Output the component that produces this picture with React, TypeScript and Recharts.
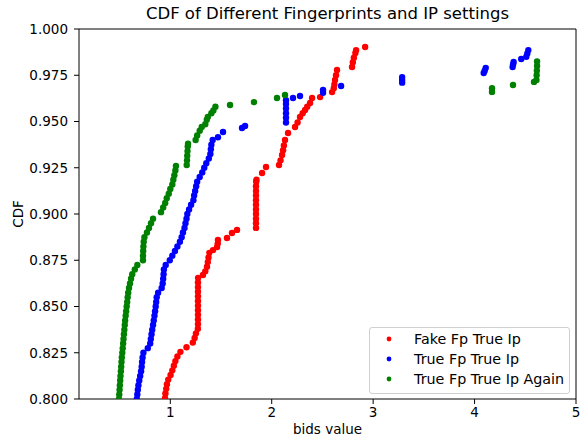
import {
  ScatterChart,
  Scatter,
  XAxis,
  YAxis,
  Legend,
  ReferenceLine,
} from "recharts"

// [bids value, CDF]
const fakeFpTrueIp: [number, number][] = [
  [0.948, 0.8005], [0.952, 0.803], [0.96, 0.8055], [0.967, 0.808], [0.98, 0.8105],
  [1.003, 0.813], [1.02, 0.8155], [1.035, 0.818], [1.05, 0.8205], [1.07, 0.823],
  [1.1, 0.8255], [1.16, 0.828], [1.222, 0.8305], [1.24, 0.833], [1.253, 0.8355],
  [1.272, 0.838], [1.273, 0.8405], [1.273, 0.843], [1.273, 0.8455], [1.273, 0.848],
  [1.273, 0.8505], [1.273, 0.853], [1.273, 0.8555], [1.273, 0.858], [1.273, 0.8605],
  [1.273, 0.863], [1.274, 0.8655], [1.322, 0.867], [1.345, 0.869], [1.362, 0.8715],
  [1.37, 0.874], [1.377, 0.8765], [1.385, 0.879], [1.421, 0.8805], [1.461, 0.8822],
  [1.468, 0.884], [1.47, 0.886], [1.559, 0.887], [1.608, 0.8897], [1.658, 0.8914],
  [1.845, 0.8925], [1.845, 0.895], [1.845, 0.8975], [1.845, 0.9], [1.845, 0.9025],
  [1.845, 0.905], [1.845, 0.9075], [1.845, 0.91], [1.845, 0.9125], [1.845, 0.915],
  [1.847, 0.9175], [1.85, 0.9185], [1.905, 0.9222], [1.944, 0.9254], [2.072, 0.9265],
  [2.087, 0.929], [2.102, 0.9319], [2.112, 0.9345], [2.12, 0.937], [2.131, 0.94],
  [2.161, 0.9438], [2.23, 0.947], [2.255, 0.9495], [2.279, 0.9524], [2.305, 0.9545],
  [2.329, 0.9562], [2.35, 0.958], [2.378, 0.96], [2.398, 0.9627], [2.477, 0.9632],
  [2.595, 0.9659], [2.612, 0.968], [2.618, 0.97], [2.624, 0.9724], [2.634, 0.975],
  [2.644, 0.9778], [2.792, 0.9795], [2.8, 0.982], [2.81, 0.9845], [2.825, 0.987],
  [2.832, 0.9886], [2.921, 0.9903],
]

const trueFpTrueIp: [number, number][] = [
  [0.67, 0.8], [0.675, 0.8025], [0.68, 0.805], [0.686, 0.8075], [0.694, 0.81],
  [0.703, 0.8125], [0.712, 0.815], [0.718, 0.8175], [0.722, 0.82], [0.727, 0.8225],
  [0.735, 0.825], [0.778, 0.8275], [0.802, 0.83], [0.808, 0.8325], [0.815, 0.835],
  [0.822, 0.8375], [0.83, 0.84], [0.837, 0.8425], [0.844, 0.845], [0.85, 0.8475],
  [0.856, 0.85], [0.861, 0.8525], [0.866, 0.855], [0.88, 0.8575], [0.915, 0.86],
  [0.925, 0.8625], [0.93, 0.865], [0.934, 0.8675], [0.937, 0.87], [0.955, 0.8725],
  [0.995, 0.875], [1.02, 0.8775], [1.046, 0.88], [1.07, 0.8825], [1.095, 0.885],
  [1.112, 0.8875], [1.125, 0.89], [1.14, 0.8925], [1.15, 0.895], [1.16, 0.8975],
  [1.168, 0.9], [1.185, 0.9025], [1.205, 0.905], [1.228, 0.9075], [1.235, 0.91],
  [1.245, 0.9125], [1.255, 0.915], [1.265, 0.9175], [1.29, 0.92], [1.315, 0.9225],
  [1.335, 0.925], [1.355, 0.9275], [1.38, 0.93], [1.395, 0.9325], [1.4, 0.935],
  [1.405, 0.9375], [1.418, 0.94], [1.47, 0.9415], [1.52, 0.9443], [1.707, 0.9465],
  [1.737, 0.9476], [2.141, 0.9495], [2.141, 0.952], [2.141, 0.9545], [2.141, 0.957],
  [2.141, 0.9595], [2.141, 0.9615], [2.21, 0.9627], [2.279, 0.9638], [2.506, 0.9655],
  [2.506, 0.967], [2.684, 0.9692], [3.286, 0.971], [3.286, 0.9725], [3.286, 0.974],
  [4.09, 0.9762], [4.1, 0.9775], [4.11, 0.979], [4.375, 0.9795], [4.38, 0.981],
  [4.385, 0.9822], [4.46, 0.9838], [4.51, 0.985], [4.52, 0.9868], [4.53, 0.9886],
]

const trueFpTrueIpAgain: [number, number][] = [
  [0.494, 0.8], [0.497, 0.8025], [0.5, 0.805], [0.503, 0.8075], [0.506, 0.81],
  [0.509, 0.8125], [0.513, 0.815], [0.516, 0.8175], [0.519, 0.82], [0.522, 0.8225],
  [0.527, 0.825], [0.531, 0.8275], [0.535, 0.83], [0.539, 0.8325], [0.543, 0.835],
  [0.547, 0.8375], [0.551, 0.84], [0.555, 0.8425], [0.56, 0.845], [0.565, 0.8475],
  [0.57, 0.85], [0.575, 0.8525], [0.58, 0.855], [0.585, 0.8575], [0.593, 0.86],
  [0.603, 0.8625], [0.613, 0.865], [0.625, 0.8675], [0.65, 0.87], [0.675, 0.8725],
  [0.731, 0.875], [0.731, 0.8775], [0.733, 0.88], [0.735, 0.8825], [0.738, 0.885],
  [0.745, 0.8875], [0.77, 0.89], [0.79, 0.8925], [0.81, 0.895], [0.83, 0.8975],
  [0.908, 0.901], [0.93, 0.9035], [0.95, 0.906], [0.965, 0.9085], [0.985, 0.911],
  [1.0, 0.9135], [1.02, 0.916], [1.03, 0.9185], [1.04, 0.921], [1.05, 0.9235],
  [1.056, 0.926], [1.162, 0.9265], [1.165, 0.929], [1.167, 0.9315], [1.17, 0.934],
  [1.172, 0.9365], [1.175, 0.938], [1.25, 0.94], [1.265, 0.9425], [1.29, 0.945],
  [1.31, 0.947], [1.345, 0.9485], [1.36, 0.951], [1.37, 0.9525], [1.405, 0.9545],
  [1.425, 0.956], [1.445, 0.958], [1.589, 0.9589], [1.825, 0.9605], [2.052, 0.9627],
  [2.131, 0.9643], [4.172, 0.966], [4.172, 0.968], [4.379, 0.9697], [4.586, 0.9714],
  [4.61, 0.9725], [4.612, 0.975], [4.614, 0.9775], [4.616, 0.98], [4.616, 0.9825],
]

const seriesNames = ["Fake Fp True Ip", "True Fp True Ip", "True Fp True Ip Again"]
const seriesColors = ["#ff0000", "#0000ff", "#008000"]
const seriesData = [fakeFpTrueIp, trueFpTrueIp, trueFpTrueIpAgain]

const xTicks = [1, 2, 3, 4, 5]
const yTicks = [0.8, 0.825, 0.85, 0.875, 0.9, 0.925, 0.95, 0.975, 1.0]

const font = "'DejaVu Sans', sans-serif"

function LegendBox(props: any) {
  const items = props.payload || []
  return (
    <div
      style={{
        width: 199,
        height: 64,
        border: "1px solid #d0d0d0",
        borderRadius: 3,
        background: "rgba(255,255,255,0.8)",
        fontFamily: font,
        fontSize: 14.3,
        color: "#000",
        paddingTop: 1,
        boxSizing: "content-box",
      }}
    >
      {items.map((it: any) => (
        <div key={it.value} style={{ height: 20, display: "flex", alignItems: "center", whiteSpace: "nowrap" }}>
          <svg width={44} height={20}>
            <circle cx={19} cy={10} r={2.4} fill={it.color} />
          </svg>
          <span>{it.value}</span>
        </div>
      ))}
    </div>
  )
}

export default function App() {
  return (
    <div style={{ position: "absolute", left: 0, top: 0, width: 581, height: 439, background: "#fff" }}>
      <div
        style={{
          position: "absolute",
          left: 79,
          width: 497,
          top: 4,
          textAlign: "center",
          fontFamily: font,
          fontSize: 16.5,
          color: "#000",
        }}
      >
        CDF of Different Fingerprints and IP settings
      </div>
      <ScatterChart
        width={581}
        height={439}
        margin={{ top: 29, right: 5, bottom: 0, left: 0 }}
        style={{ fontFamily: font }}
      >
        <XAxis
          type="number"
          dataKey="x"
          domain={[0.1, 5]}
          ticks={xTicks}
          allowDataOverflow
          height={40}
          tickSize={5}
          tickMargin={3}
          stroke="#000"
          tick={{ fill: "#000", fontSize: 13.5 }}
          label={{ value: "bids value", position: "insideBottom", offset: 5, fill: "#000", fontSize: 13.5 }}
        />
        <YAxis
          type="number"
          dataKey="y"
          domain={[0.8, 1.0]}
          ticks={yTicks}
          allowDataOverflow
          width={79}
          tickSize={5}
          tickMargin={6}
          stroke="#000"
          tickFormatter={(v: number) => v.toFixed(3)}
          tick={{ fill: "#000", fontSize: 13.5 }}
          label={{
            value: "CDF",
            angle: -90,
            position: "insideLeft",
            offset: 18,
            fill: "#000",
            fontSize: 13.5,
            style: { textAnchor: "middle" },
          }}
        />
        <ReferenceLine y={1.0} stroke="#000" />
        <ReferenceLine x={5} stroke="#000" />
        {seriesData.map((pts, i) => (
          <Scatter
            key={seriesNames[i]}
            name={seriesNames[i]}
            data={pts.map(([x, y]) => ({ x, y }))}
            fill={seriesColors[i]}
            isAnimationActive={false}
            shape={(p: any) => <circle cx={p.cx} cy={p.cy} r={3.2} fill={seriesColors[i]} />}
          />
        ))}
        <Legend
          layout="horizontal"
          align="center"
          verticalAlign="middle"
          content={<LegendBox />}
          wrapperStyle={{ left: 369, top: 327, width: 201 }}
        />
      </ScatterChart>
    </div>
  )
}
